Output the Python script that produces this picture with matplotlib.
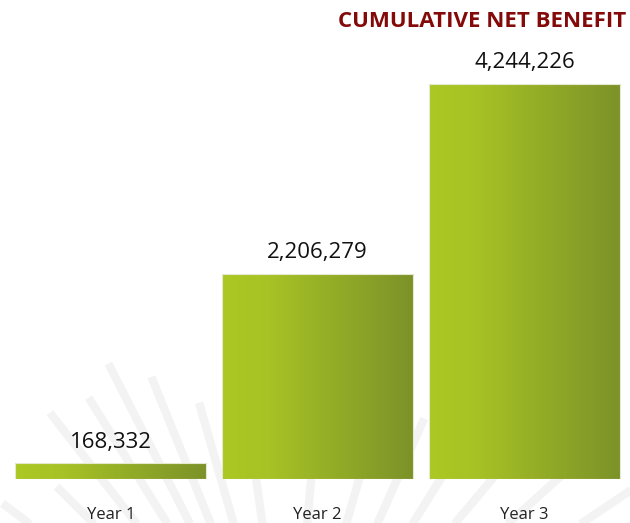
import matplotlib.pyplot as plt
import matplotlib.colors as mcolors
import numpy as np

years = ["Year 1", "Year 2", "Year 3"]
benefit = [168332, 2206279, 4244226]
value_labels = ["168,332", "2,206,279", "4,244,226"]

plt.rcParams["font.family"] = ["Open Sans", "DejaVu Sans"]

fig = plt.figure(figsize=(6.3, 5.23), dpi=100)

# faint decorative fan of lines behind the chart
bg = fig.add_axes([0, 0, 1, 1], zorder=0)
bg.set_xlim(0, 630)
bg.set_ylim(523, 0)
bg.axis("off")
ox, oy = 290, 720
fan = [(150, 330), (143, 360), (135, 330), (128, 390), (122, 380), (117, 400),
       (112, 370), (106, 330), (98, 300), (85, 260), (74, 300), (66, 330),
       (58, 310), (50, 330), (42, 380), (34, 420), (28, 460)]
for ang, r1 in fan:
    a = np.deg2rad(ang)
    r0 = 150
    bg.plot([ox + r0 * np.cos(a), ox + r1 * np.cos(a)],
            [oy - r0 * np.sin(a), oy - r1 * np.sin(a)],
            color="#f3f3f3", lw=6, solid_capstyle="butt")

ax = fig.add_axes([0, 44 / 523, 1, 479 / 523], zorder=1)
ax.patch.set_alpha(0)
x = np.arange(len(years))
bars = ax.bar(x, benefit, width=0.925, color="none", edgecolor="#e4ead0", linewidth=0.8, zorder=3)

cmap = mcolors.LinearSegmentedColormap.from_list(
    "g", [(0, "#abc823"), (0.25, "#a6c225"), (1, "#7c9229")])
grad = np.linspace(0, 1, 256).reshape(1, -1)
for b in bars:
    x0, y0 = b.get_x(), b.get_y()
    w, h = b.get_width(), b.get_height()
    im = ax.imshow(grad, cmap=cmap, aspect="auto", extent=[x0, x0 + w, y0, y0 + h], zorder=2)
    im.set_clip_path(b)

for xi, v, lab in zip(x, benefit, value_labels):
    ax.text(xi, v + 115000, lab, ha="center", va="bottom", fontsize=16, color="#111111")

ax.set_xlim(-0.535, 2.51)
ax.set_ylim(0, 4244226 * 479 / 395)
ax.set_xticks(x)
ax.set_xticklabels(years, fontsize=12, color="#222222")
ax.tick_params(axis="x", length=0, pad=20)
ax.set_yticks([])
for s in ax.spines.values():
    s.set_visible(False)

fig.text(0.994, 0.958, "CUMULATIVE NET BENEFIT", ha="right", va="center",
         fontsize=16, fontweight="bold", color="#840a0a")

fig.savefig("out.png", dpi=100)
